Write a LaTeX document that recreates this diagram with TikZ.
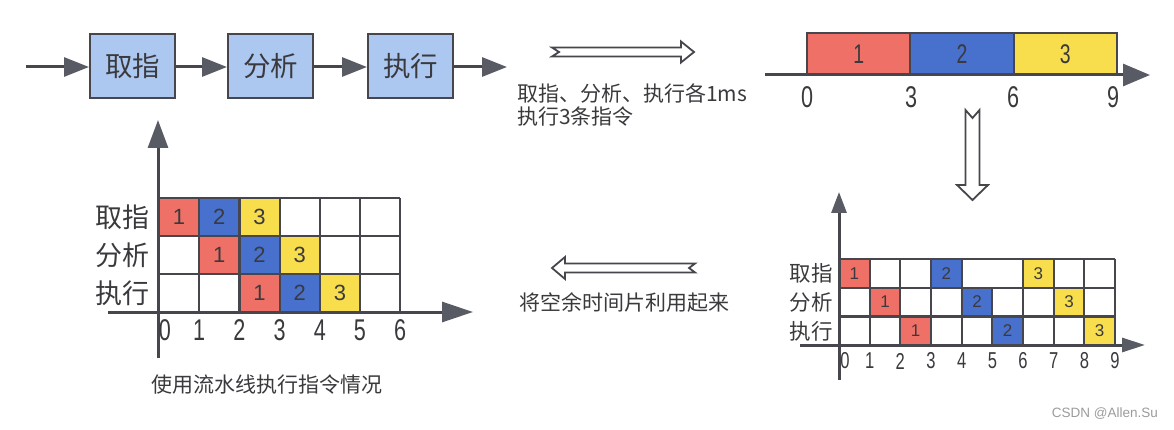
\documentclass[tikz,border=0pt]{standalone}
\usepackage{fontspec}
\setmainfont{Noto Sans CJK SC}
\newfontfamily\narrowfont[FakeStretch=0.72]{Liberation Sans}
\newfontfamily\cellfont{Liberation Sans}
\usetikzlibrary{arrows.meta}
\definecolor{lineGray}{RGB}{70,70,76}
\definecolor{headGray}{RGB}{88,90,100}
\definecolor{textGray}{RGB}{58,58,62}
\definecolor{stageBlue}{RGB}{172,200,240}
\definecolor{slotRed}{RGB}{238,112,102}
\definecolor{slotBlue}{RGB}{72,112,205}
\definecolor{slotYellow}{RGB}{248,222,76}
\definecolor{markGray}{RGB}{155,155,155}

\tikzset{
  stage/.style={draw=lineGray, line width=2pt, fill=stageBlue, minimum width=85pt,
    minimum height=64pt, inner sep=0pt, text=textGray, font=\fontsize{27.5}{30}\selectfont},
  flow/.style={draw=lineGray, line width=3pt, -{Triangle[length=25pt,width=19pt,color=headGray]}},
  hollow/.style={draw=lineGray, line width=1.8pt, fill=white, line join=miter},
  axisline/.style={draw=lineGray, line width=3pt},
  gridline/.style={draw=lineGray, line width=2.2pt},
  note/.style={text=textGray, inner sep=0pt, font=\fontsize{21}{24}\selectfont},
  rowlabel/.style={anchor=east, text=textGray, inner sep=0pt},
  ticklabel/.style={text=textGray, inner sep=0pt}
}

\begin{document}
\begin{tikzpicture}[x=1pt, y=-1pt]
  \useasboundingbox (0,0) rectangle (1174,430);

  % three stages in a row
  \node[stage] (fetch) at (132.5,66) {取指};
  \node[stage] (decode) at (270.5,66) {分析};
  \node[stage] (exec) at (410.5,66) {执行};
  \coordinate (src) at (26,67);
  \coordinate (snk) at (507,67);
  \draw[flow] (src) -- (fetch.west |- src);
  \draw[flow] (fetch.east |- src) -- (decode.west |- src);
  \draw[flow] (decode.east |- src) -- (exec.west |- src);
  \draw[flow] (exec.east |- src) -- (snk);

  \draw[hollow] (552,47.5) -- (681,47.5) -- (681,41.5) -- (694,52) -- (681,62.5)
    -- (681,56.5) -- (552,56.5) -- (559,52) -- cycle;
  \node[note, anchor=west] (cost) at (517,93) {取指、分析、执行各1ms};
  \node[note, anchor=west] (count) at (517,117) {执行3条指令};

  % serial timeline
  \foreach \k/\c [count=\i from 0] in {1/slotRed, 2/slotBlue, 3/slotYellow} {
    \draw[fill=\c, draw=lineGray, line width=2pt] ({807+\i*103.33},33) rectangle +(103.33,42);
    \node[text=textGray, font=\narrowfont\fontsize{27}{30}\selectfont] (bar\k) at ({807+(\i+0.5)*103.33},54) {\k};
  }
  \coordinate (tlA) at (765,75);
  \coordinate (tlB) at (1150,75);
  \draw[axisline, -{Triangle[length=27pt,width=22pt,color=headGray]}] (tlA) -- (tlB);
  \foreach \t/\x in {0/807, 3/911, 6/1013, 9/1113}
    \node[ticklabel, font=\narrowfont\fontsize{30}{32}\selectfont] (tl\t) at (\x,97) {\t};

  \draw[hollow] (965.5,110) -- (972.5,118) -- (979.5,110) -- (979.5,185) -- (988,185)
    -- (972.5,200) -- (957,185) -- (965.5,185) -- cycle;

  % overlapped slots
  \foreach \r/\c/\n/\col in {0/0/1/slotRed, 0/3/2/slotBlue, 0/6/3/slotYellow,
      1/1/1/slotRed, 1/4/2/slotBlue, 1/7/3/slotYellow,
      2/2/1/slotRed, 2/5/2/slotBlue, 2/8/3/slotYellow} {
    \fill[\col] ({839+\c*30.67},{259+\r*28.7}) rectangle +(30.67,28.7);
    \node[text=textGray, font=\cellfont\fontsize{17}{18}\selectfont] (gap\r\c) at ({839+(\c+0.5)*30.67},{259+(\r+0.5)*28.7}) {\n};
  }
  \foreach \c in {0,1,2,3,4,6,7,8,9}
    \draw[gridline] ({839+\c*30.67},259) -- ({839+\c*30.67},345);
  \draw[gridline] ({839+5*30.67},287.7) -- ({839+5*30.67},345);
  \foreach \r in {0,...,3}
    \draw[gridline] (839,{259+\r*28.7}) -- (1115,{259+\r*28.7});
  \coordinate (gapY0) at (839,380);
  \coordinate (gapY1) at (839,192);
  \coordinate (gapX0) at (800,345);
  \coordinate (gapX1) at (1145,345);
  \draw[axisline, -{Triangle[length=21pt,width=15pt,color=headGray]}] (gapY0) -- (gapY1);
  \draw[axisline, -{Triangle[length=23pt,width=14pt,color=headGray]}] (gapX0) -- (gapX1);
  \foreach \l [count=\r from 0] in {取指, 分析, 执行}
    \node[rowlabel, font=\fontsize{21.5}{24}\selectfont] (gapRow\r) at (833,{273.5+\r*28.7}) {\l};
  \foreach \t in {0,...,9}
    \node[ticklabel, font=\narrowfont\fontsize{23}{25}\selectfont] (gapT\t) at ({839+\t*30.67+(\t==0?6:0)},361) {\t};

  \draw[hollow] (552,268) -- (565,257) -- (565,263.5) -- (695,263.5) -- (689,268)
    -- (695,272.5) -- (565,272.5) -- (565,279) -- cycle;
  \node[note] (reuse) at (624,302) {将空余时间片利用起来};

  % pipelined slots
  \foreach \r/\c/\n/\col in {0/0/1/slotRed, 0/1/2/slotBlue, 0/2/3/slotYellow,
      1/1/1/slotRed, 1/2/2/slotBlue, 1/3/3/slotYellow,
      2/2/1/slotRed, 2/3/2/slotBlue, 2/4/3/slotYellow} {
    \fill[\col] ({159+\c*40.2},{198+\r*38}) rectangle +(40.2,38);
    \node[text=textGray, font=\cellfont\fontsize{22}{24}\selectfont] (pipe\r\c) at ({159+(\c+0.5)*40.2},{198+(\r+0.5)*38}) {\n};
  }
  \foreach \c in {0,...,6}
    \draw[gridline] ({159+\c*40.2},198) -- ({159+\c*40.2},312);
  \foreach \r in {0,...,3}
    \draw[gridline] (159,{198+\r*38}) -- (400.2,{198+\r*38});
  \coordinate (pipeY0) at (158,358);
  \coordinate (pipeY1) at (158,120);
  \coordinate (pipeX0) at (108,312);
  \coordinate (pipeX1) at (473,312);
  \draw[axisline, -{Triangle[length=28pt,width=20pt,color=headGray]}] (pipeY0) -- (pipeY1);
  \draw[axisline, -{Triangle[length=31pt,width=20pt,color=headGray]}] (pipeX0) -- (pipeX1);
  \foreach \l [count=\r from 0] in {取指, 分析, 执行}
    \node[rowlabel, font=\fontsize{27}{30}\selectfont] (pipeRow\r) at (150,{217+\r*38}) {\l};
  \foreach \t in {0,...,6}
    \node[ticklabel, font=\narrowfont\fontsize{30}{32}\selectfont] (pipeT\t) at ({159+\t*40.2+(\t==0?6:0)},330) {\t};
  \node[note] (caption) at (267,385) {使用流水线执行指令情况};

  \node[anchor=east, text=markGray, inner sep=0pt, font=\cellfont\fontsize{13.5}{15}\selectfont] (mark) at (1158,414) {CSDN @Allen.Su};
\end{tikzpicture}
\end{document}
